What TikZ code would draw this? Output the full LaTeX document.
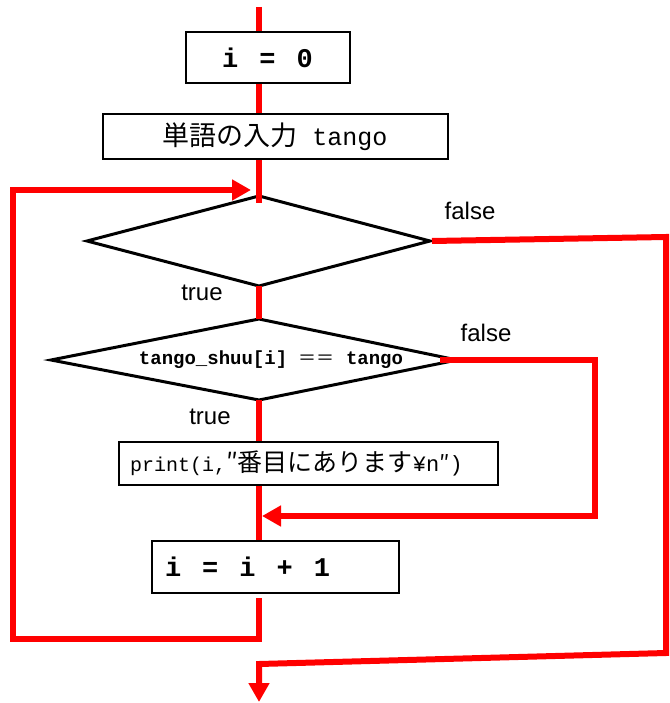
\documentclass[tikz,border=0pt]{standalone}
\usepackage{fontspec}
\setmainfont{Liberation Sans}
\newfontfamily\cjk{Noto Sans CJK JP}
\newfontfamily\mono{Liberation Mono}
\usetikzlibrary{arrows.meta}
\newcommand\wsp{{\cjk\fontsize{21}{21}\selectfont　}}
\begin{document}
\begin{tikzpicture}[x=1pt,y=-1pt,
  flow/.style={draw=red,line width=6pt},
  tipped/.style={-{Triangle[length=19pt,width=20pt]}},
  box/.style={draw=black,line width=2pt,fill=white,inner sep=0pt},
  dia/.style={draw=black,line width=3pt,fill=white},
  lab/.style={font=\fontsize{24}{24}\selectfont,inner sep=0pt}]
\useasboundingbox (0,0) rectangle (669,703);
% boxes
\node[box,minimum width=164pt,minimum height=51pt] (b1) at (267.5,58)
  {\mono\bfseries\fontsize{27}{27}\selectfont i\wsp=\wsp0};
\node[box,minimum width=345pt,minimum height=45pt] (b2) at (275,137)
  {\fontsize{27}{27}\selectfont{\cjk 単語の入力}\mono\fontsize{25}{25}\selectfont\ tango};
\node[box,minimum height=43pt,inner xsep=11pt,text width=357pt,align=left] (b3) at (308.5,463)
  {\fontsize{20}{20}\selectfont\mono print(i,{\cjk\fontsize{25}{25}\selectfont ″番目にあります}{\fontsize{22}{22}\selectfont¥n{\cjk ″})}};
\node[box,minimum height=52pt,inner xsep=13pt,text width=221pt,align=left] (b4) at (275.5,567)
  {\mono\bfseries\fontsize{27}{27}\selectfont i\wsp=\wsp i\wsp+\wsp1};
% diamonds
\coordinate (d1t) at (259,196);
\coordinate (d1r) at (430,241);
\coordinate (d1b) at (259,286);
\coordinate (d1l) at (87,241);
\draw[dia] (d1t) -- (d1r) -- (d1b) -- (d1l) -- cycle;
\coordinate (d2t) at (259,319);
\coordinate (d2r) at (457,360);
\coordinate (d2b) at (259,400);
\coordinate (d2l) at (51,360);
\draw[dia] (d2t) -- (d2r) -- (d2b) -- (d2l) -- cycle;
\node[inner sep=0pt] (c2) at (271,360)
  {\mono\bfseries\fontsize{19}{19}\selectfont tango\_shuu[i] {\cjk\mdseries\fontsize{18}{18}\selectfont ＝＝} tango};
% labels
\node[lab] (f1) at (470,211) {false};
\node[lab] (t1) at (202,293) {true};
\node[lab] (f2) at (486,333) {false};
\node[lab] (t2) at (210,417) {true};
% coordinates for connectors
\coordinate (s) at (259,7);
\coordinate (j1) at (259,203);
\coordinate (l0) at (259,598);
\coordinate (l1) at (259,639);
\coordinate (l2) at (13,639);
\coordinate (l3) at (13,190);
\coordinate (l4) at (251,190);
\coordinate (r0) at (432,241);
\coordinate (r1) at (666,237);
\coordinate (r2) at (666,653);
\coordinate (r3) at (259,664);
\coordinate (r4) at (259,702);
\coordinate (q0) at (440,360);
\coordinate (q1) at (595,360);
\coordinate (q2) at (595,516);
\coordinate (q3) at (262,516);
% connectors
\draw[flow] (s) -- (s |- b1.north);
\draw[flow] (s |- b1.south) -- (s |- b2.north);
\draw[flow] (s |- b2.south) -- (j1);
\draw[flow] (d1b) -- (d2t);
\draw[flow] (d2b) -- (s |- b3.north);
\draw[flow] (s |- b3.south) -- (s |- b4.north);
\draw[flow,tipped] (l0) -- (l1) -- (l2) -- (l3) -- (l4);
\draw[flow,tipped] (r0) -- (r1) -- (r2) -- (r3) -- (r4);
\draw[flow,tipped] (q0) -- (q1) -- (q2) -- (q3);
\end{tikzpicture}
\end{document}
